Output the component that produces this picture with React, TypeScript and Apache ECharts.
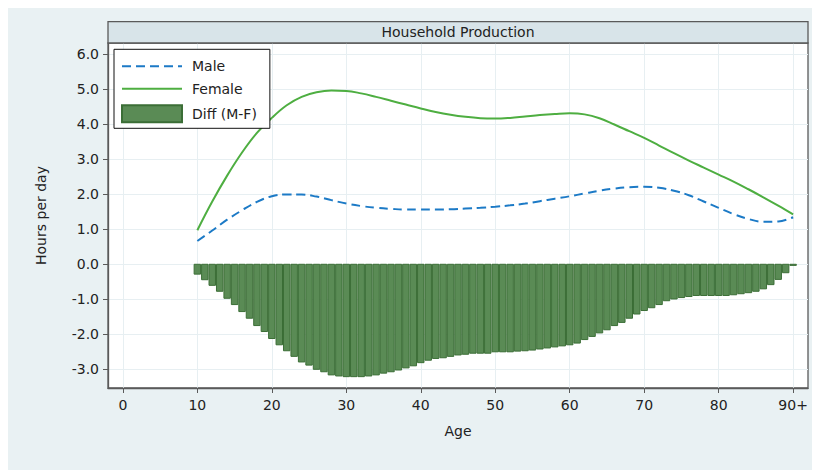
import React, { useEffect, useRef } from "react";
import * as echarts from "echarts";

const title = "Household Production";
const seriesNames = ["Male", "Female", "Diff (M-F)"];

const barAges = [
  10, 11, 12, 13, 14, 15, 16, 17, 18, 19, 20, 21, 22, 23, 24, 25, 26, 27, 28, 29,
  30, 31, 32, 33, 34, 35, 36, 37, 38, 39, 40, 41, 42, 43, 44, 45, 46, 47, 48, 49,
  50, 51, 52, 53, 54, 55, 56, 57, 58, 59, 60, 61, 62, 63, 64, 65, 66, 67, 68, 69,
  70, 71, 72, 73, 74, 75, 76, 77, 78, 79, 80, 81, 82, 83, 84, 85, 86, 87, 88, 89, 90,
];
const diffValues = [
  -0.31, -0.47, -0.63, -0.8, -1.0, -1.18, -1.38, -1.57, -1.78, -1.95,
  -2.15, -2.33, -2.5, -2.66, -2.82, -2.91, -3.03, -3.1, -3.19, -3.22,
  -3.24, -3.24, -3.24, -3.22, -3.19, -3.14, -3.1, -3.05, -2.99, -2.93,
  -2.84, -2.77, -2.72, -2.7, -2.66, -2.62, -2.6, -2.57, -2.57, -2.57,
  -2.53, -2.53, -2.53, -2.51, -2.5, -2.48, -2.45, -2.42, -2.39, -2.36,
  -2.33, -2.28, -2.18, -2.09, -1.99, -1.9, -1.78, -1.69, -1.57, -1.45,
  -1.35, -1.27, -1.18, -1.07, -1.02, -0.98, -0.95, -0.92, -0.92, -0.92,
  -0.92, -0.92, -0.9, -0.87, -0.84, -0.8, -0.73, -0.61, -0.46, -0.27, -0.06,
];

const lineAges = [
  10, 12, 14, 16, 18, 20, 22, 24, 26, 28, 30, 32, 34, 36, 38, 40, 42, 44, 46, 48,
  50, 52, 54, 56, 58, 60, 62, 64, 66, 68, 70, 72, 74, 76, 78, 80, 82, 84, 86, 88, 90,
];
const maleValues = [
  0.65, 0.95, 1.26, 1.53, 1.77, 1.93, 1.98, 1.98, 1.92, 1.82,
  1.72, 1.65, 1.6, 1.57, 1.55, 1.55, 1.55, 1.56, 1.58, 1.6,
  1.63, 1.67, 1.72, 1.79, 1.86, 1.93, 2.01, 2.09, 2.15, 2.19,
  2.2, 2.17, 2.09, 1.96, 1.78, 1.6, 1.42, 1.28, 1.2, 1.21, 1.33,
];
const femaleValues = [
  0.96, 1.78, 2.52, 3.18, 3.74, 4.17, 4.53, 4.77, 4.9, 4.95,
  4.94, 4.87, 4.77, 4.66, 4.55, 4.44, 4.34, 4.26, 4.2, 4.16,
  4.15, 4.17, 4.21, 4.25, 4.28, 4.3, 4.27, 4.16, 3.98, 3.79,
  3.6, 3.38, 3.16, 2.95, 2.75, 2.55, 2.35, 2.13, 1.9, 1.66, 1.41,
];

const xTickValues = [0, 10, 20, 30, 40, 50, 60, 70, 80, 90];
const xTickLabels = ["0", "10", "20", "30", "40", "50", "60", "70", "80", "90+"];
const yTickValues = [-3, -2, -1, 0, 1, 2, 3, 4, 5, 6];

const FONT = "DejaVu Sans";
const AXIS_COLOR = "#5a5a5a";
const GRID_COLOR = "#e7eff2";

export default function App() {
  const ref = useRef<HTMLDivElement>(null);

  useEffect(() => {
    if (!ref.current) return;
    const chart = echarts.init(ref.current, undefined, { renderer: "svg" });
    const gridLeft = 100;
    const gridRight = 12;
    const gridTop = 35;
    const width = 812;

    chart.setOption({
      animation: false,
      backgroundColor: "#e9f1f3",
      textStyle: { fontFamily: FONT },
      graphic: [
        {
          type: "rect",
          shape: { x: gridLeft, y: 13.7, width: width - gridLeft - gridRight, height: gridTop - 13.7 },
          style: { fill: "#d8e4e9", stroke: AXIS_COLOR, lineWidth: 1.3 },
          z: 10,
        },
        {
          type: "text",
          x: gridLeft + (width - gridLeft - gridRight) / 2,
          y: (13.7 + gridTop) / 2,
          style: {
            text: title,
            font: `14px '${FONT}'`,
            fill: "#222",
            textAlign: "center",
            textVerticalAlign: "middle",
          },
          z: 11,
        },
      ],
      grid: {
        left: gridLeft,
        right: gridRight,
        top: gridTop,
        bottom: 82,
        show: true,
        backgroundColor: "#ffffff",
        borderColor: AXIS_COLOR,
        borderWidth: 1.3,
      },
      legend: {
        data: [
          { name: seriesNames[0], itemStyle: { opacity: 0 } },
          { name: seriesNames[1], itemStyle: { opacity: 0 } },
          { name: seriesNames[2], icon: "rect" },
        ],
        orient: "vertical",
        left: 106,
        top: 41.3,
        backgroundColor: "#ffffff",
        borderColor: "#111",
        borderWidth: 1,
        padding: [10, 13, 5, 7],
        itemWidth: 60,
        itemHeight: 17,
        itemGap: 8.5,
        textStyle: { fontFamily: FONT, fontSize: 14, color: "#222", padding: [0, 0, 0, 5] },
        selectedMode: false,
      },
      xAxis: {
        type: "value",
        min: -2,
        max: 92,
        name: "Age",
        nameLocation: "middle",
        nameGap: 36,
        nameTextStyle: { fontFamily: FONT, fontSize: 14, color: "#222" },
        axisLine: { show: true, onZero: false, lineStyle: { color: AXIS_COLOR, width: 1.3 } },
        axisTick: { show: true, length: 5, lineStyle: { color: AXIS_COLOR }, customValues: xTickValues },
        axisLabel: {
          customValues: xTickValues,
          margin: 10,
          fontFamily: FONT,
          fontSize: 14,
          color: "#222",
          formatter: (v: number) => xTickLabels[xTickValues.indexOf(v)] ?? String(v),
        },
        splitLine: { show: true, lineStyle: { color: GRID_COLOR, width: 1 } },
      },
      yAxis: {
        type: "value",
        min: -3.55,
        max: 6.31,
        name: "Hours per day",
        nameLocation: "middle",
        nameGap: 60,
        nameTextStyle: { fontFamily: FONT, fontSize: 14, color: "#222" },
        axisLine: { show: true, onZero: false, lineStyle: { color: AXIS_COLOR, width: 1.3 } },
        axisTick: { show: true, length: 5, lineStyle: { color: AXIS_COLOR }, customValues: yTickValues },
        axisLabel: {
          customValues: yTickValues,
          margin: 9,
          fontFamily: FONT,
          fontSize: 14,
          color: "#222",
          formatter: (v: number) => v.toFixed(1),
        },
        splitLine: { show: true, lineStyle: { color: GRID_COLOR, width: 1 } },
      },
      series: [
        {
          name: seriesNames[2],
          type: "bar",
          data: barAges.map((a, i) => [a, diffValues[i]]),
          barWidth: 7.45,
          itemStyle: { color: "#5a8b55", borderColor: "#3b6e36", borderWidth: 1 },
          z: 2,
        },
        {
          name: seriesNames[0],
          type: "line",
          data: lineAges.map((a, i) => [a, maleValues[i]]),
          smooth: 0.4,
          symbol: "none",
          lineStyle: { color: "#1c7ac6", width: 2, type: [9, 5] },
          itemStyle: { color: "#1c7ac6" },
          z: 3,
        },
        {
          name: seriesNames[1],
          type: "line",
          data: lineAges.map((a, i) => [a, femaleValues[i]]),
          smooth: 0.4,
          symbol: "none",
          lineStyle: { color: "#4eae41", width: 2 },
          itemStyle: { color: "#4eae41" },
          z: 3,
        },
      ],
    });
    return () => chart.dispose();
  }, []);

  return <div ref={ref} style={{ width: 812, height: 462 }} />;
}
